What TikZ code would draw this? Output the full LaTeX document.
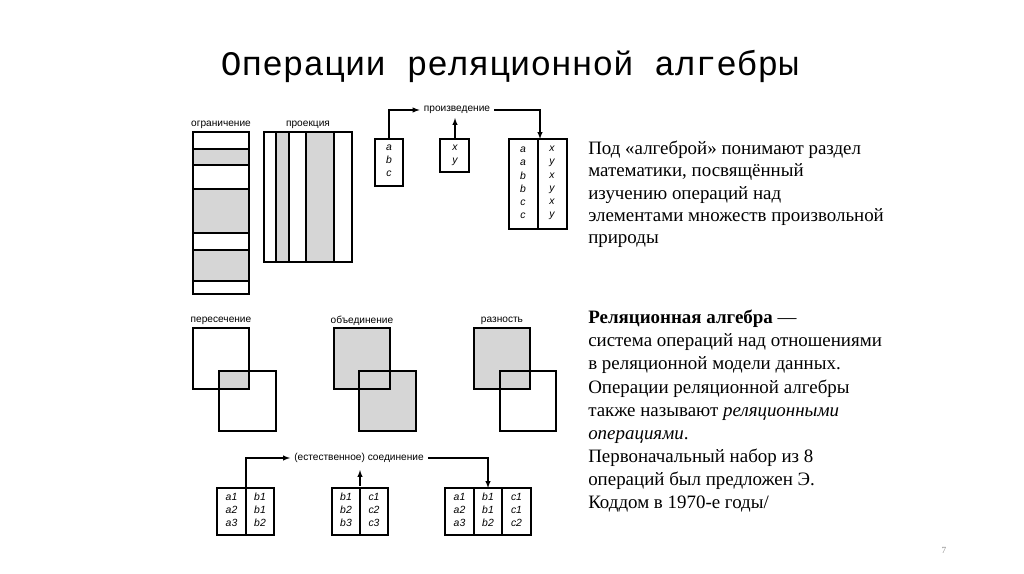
\documentclass[tikz,border=0pt]{standalone}
\usepackage{fontspec}
\setmainfont{Liberation Serif}
\newfontfamily\lab{Liberation Sans}
\newfontfamily\ttl{Liberation Mono}
\begin{document}
\begin{tikzpicture}[x=0.75pt,y=-0.75pt,
  box/.style={draw,line width=0.8pt},
  sh/.style={fill=black!16},
  lbl/.style={font=\lab\fontsize{7.6}{9}\selectfont,inner xsep=3pt,inner ysep=1pt},
  cell/.style={font=\lab\itshape\fontsize{7.8}{9.9}\selectfont,align=center,inner sep=0pt},
  arr/.style={line width=0.8pt,-latex},
  ln/.style={line width=0.8pt},
  body/.style={font=\fontsize{14.2}{16.6}\selectfont,align=left,anchor=north west,inner sep=0pt}]
\useasboundingbox (0,0) rectangle (1024,574);
\node[font=\ttl\fontsize{25.8}{28}\selectfont] (title) at (510,66) {Операции реляционной алгебры};
% ограничение
\node[lbl] (l1) at (221,125) {ограничение};
\fill[sh] (193,149) rectangle (249,165) (193,189) rectangle (249,233) (193,250) rectangle (249,281);
\draw[box] (193,132) rectangle (249,294);
\foreach \y in {149,165,189,233,250,281} \draw[ln] (193,\y) -- (249,\y);
% проекция
\node[lbl] (l2) at (308,125) {проекция};
\fill[sh] (276,132) rectangle (289,262) (306,132) rectangle (334,262);
\draw[box] (264,132) rectangle (352,262);
\foreach \x in {276,289,306,334} \draw[ln] (\x,132) -- (\x,262);
% произведение
\node[lbl] (l3) at (457,110) {произведение};
\draw[box] (375,139) rectangle (403,186);
\node[cell] (t1) at (389,161) {a\\b\\c};
\draw[box] (440,139) rectangle (469,172);
\node[cell] (t2) at (455,155) {x\\y};
\draw[box] (509,139) rectangle (567,229);
\draw[ln] (538,139) -- (538,229);
\node[cell] (t3a) at (523,183) {a\\a\\b\\b\\c\\c};
\node[cell] (t3b) at (552,183) {x\\y\\x\\y\\x\\y};
\coordinate (c1) at (389,139); \coordinate (c2) at (455,139); \coordinate (c3) at (540,139);
\draw[arr] (c1) |- (l3.west);
\draw[arr] (c2) -- (455,118);
\draw[arr] (l3.east) -| (c3);
% пересечение
\node[lbl] (l4) at (221,321) {пересечение};
\fill[sh] (219,371) rectangle (249,389);
\draw[box] (193,328) rectangle (249,389);
\draw[box] (219,371) rectangle (276,431);
% объединение
\node[lbl] (l5) at (362,321) {объединение};
\fill[sh] (334,328) rectangle (390,389) (359,371) rectangle (416,431);
\draw[box] (334,328) rectangle (390,389);
\draw[box] (359,371) rectangle (416,431);
% разность
\node[lbl] (l6) at (502,321) {разность};
\fill[sh] (474,328) rectangle (530,389);
\draw[box] (474,328) rectangle (530,389);
\draw[box] (500,371) rectangle (556,431);
% соединение
\node[lbl] (l7) at (359,458) {(естественное) соединение};
\draw[box] (217,488) rectangle (274,535); \draw[ln] (246,488) -- (246,535);
\node[cell] at (231.5,510) {a1\\a2\\a3}; \node[cell] at (260,510) {b1\\b1\\b2};
\draw[box] (332,488) rectangle (388,535); \draw[ln] (360,488) -- (360,535);
\node[cell] at (346,510) {b1\\b2\\b3}; \node[cell] at (374,510) {c1\\c2\\c3};
\draw[box] (445,488) rectangle (531,535); \draw[ln] (474,488) -- (474,535); \draw[ln] (502,488) -- (502,535);
\node[cell] at (459.5,510) {a1\\a2\\a3}; \node[cell] at (488,510) {b1\\b1\\b2}; \node[cell] at (516.5,510) {c1\\c1\\c2};
\coordinate (d1) at (246,488); \coordinate (d2) at (360,486); \coordinate (d3) at (488,488);
\draw[arr] (d1) |- (l7.west);
\draw[arr] (d2) -- (360,470);
\draw[arr] (l7.east) -| (d3);
% text
\node[body] (p1) at (588,141) {Под «алгеброй» понимают раздел\\математики, посвящённый\\изучению операций над\\элементами множеств произвольной\\природы};
\node[body,font=\fontsize{14.2}{17.3}\selectfont] (p2) at (588,310) {\textbf{Реляционная алгебра} —\\система операций над отношениями\\в реляционной модели данных.\\Операции реляционной алгебры\\также называют \textit{реляционными}\\\textit{операциями}.\\Первоначальный набор из 8\\операций был предложен Э.\\Коддом в 1970-е годы/};
\node[font=\fontsize{7}{8}\selectfont,text=black!45] (pg) at (944,550) {7};
\end{tikzpicture}
\end{document}
